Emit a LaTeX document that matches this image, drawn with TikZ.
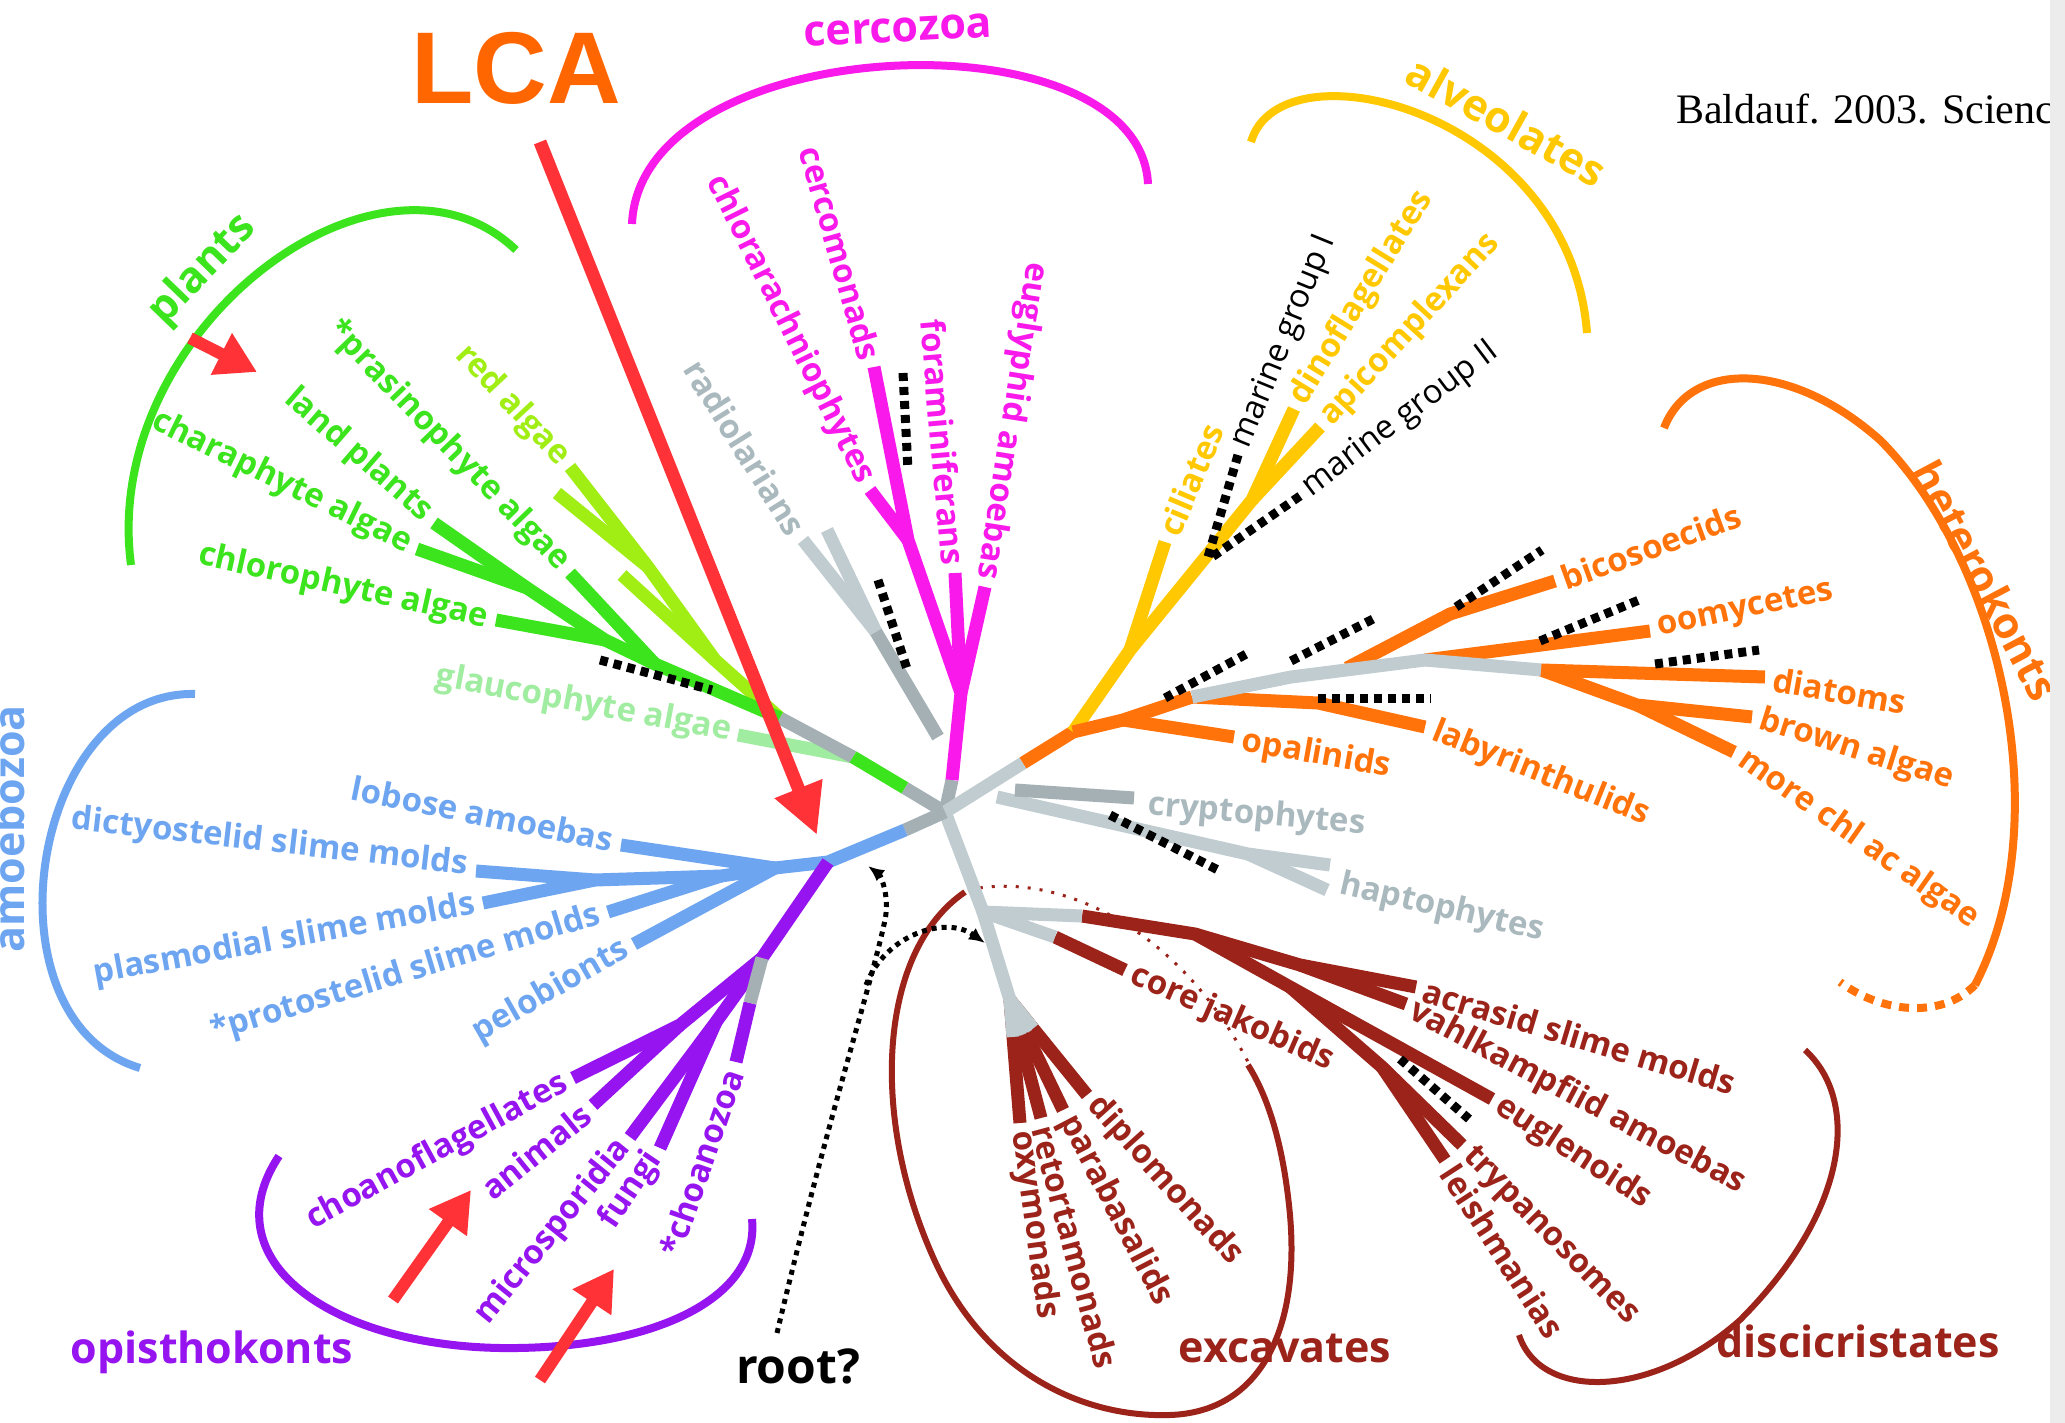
\documentclass[tikz,border=0pt]{standalone}
\usepackage{fontspec}
\setmainfont{Liberation Serif}
\newfontfamily\labfont{Open Sans}
\newfontfamily\lcafont{Liberation Sans}
\usetikzlibrary{arrows.meta,calc}

\definecolor{plantgreen}{RGB}{60,228,30}
\definecolor{redalg}{RGB}{160,238,20}
\definecolor{glauco}{RGB}{160,236,160}
\definecolor{cercomag}{RGB}{250,25,235}
\definecolor{alvyellow}{RGB}{255,200,0}
\definecolor{hetorange}{RGB}{255,115,10}
\definecolor{amoeblue}{RGB}{110,165,240}
\definecolor{opipurple}{RGB}{150,20,240}
\definecolor{excbrown}{RGB}{155,35,25}
\definecolor{greydark}{RGB}{164,176,180}
\definecolor{greylight}{RGB}{192,204,208}
\definecolor{greytext}{RGB}{170,185,190}
\definecolor{lcaorange}{RGB}{255,102,0}
\definecolor{lcared}{RGB}{255,50,55}
\definecolor{stripgrey}{RGB}{236,236,236}

\tikzset{
  branch/.style={line width=13pt, line join=round},
  clade/.style={line width=8pt},
  leaf/.style={font=\labfont\bfseries\fontsize{33}{33}\selectfont, inner sep=0pt},
  thinleaf/.style={font=\labfont\fontsize{33}{33}\selectfont, inner sep=0pt},
  group/.style={font=\labfont\bfseries\fontsize{43}{43}\selectfont, inner sep=0pt},
  blkdash/.style={line width=9pt, dash pattern=on 8pt off 6pt},
  lcaarrow/.style={lcared, line width=13pt, -{Triangle[length=50pt,width=48pt]}},
  redarrow/.style={lcared, line width=12pt, -{Triangle[length=40pt,width=44pt]}},
  rootdot/.style={line width=5pt, dash pattern=on 5pt off 5pt, -{Latex[length=16pt,width=14pt]}},
}

\begin{document}
\begin{tikzpicture}[x=1pt,y=-1pt]
  \useasboundingbox (0,0) rectangle (2065,1423);
  \fill[white] (0,0) rectangle (2065,1423);

  % hub
  \coordinate (hub) at (945,812);

  % ---------------------------------------------------------------- clade arcs
  \draw[clade,plantgreen] (131,565) .. controls (100,330) and (380,120) .. (516,250);
  \draw[clade,cercomag] (632,224) .. controls (640,30) and (1140,10) .. (1148,184);
  \draw[clade,alvyellow] (1251,142) .. controls (1280,40) and (1570,110) .. (1587,333);
  \draw[clade,hetorange] (1664,428) .. controls (1690,360) and (1790,360) .. (1880,440)
    .. controls (2000,560) and (2060,820) .. (1975,985);
  \draw[clade,hetorange,dash pattern=on 10pt off 8pt] (1975,985) .. controls (1940,1020) and (1880,1012) .. (1840,982);
  \draw[clade,amoeblue] (195,694) .. controls (30,690) and (-20,1020) .. (140,1068);
  \draw[clade,opipurple] (279,1156) .. controls (210,1260) and (330,1345) .. (500,1348)
    .. controls (650,1350) and (760,1300) .. (752,1219);
  \draw[line width=6pt,excbrown] (965,892) .. controls (880,950) and (870,1110) .. (930,1250)
    .. controls (980,1370) and (1080,1418) .. (1170,1415)
    .. controls (1260,1412) and (1300,1330) .. (1290,1215)
    .. controls (1284,1150) and (1270,1100) .. (1248,1065);
  \draw[excbrown,line width=3pt,dash pattern=on 3pt off 9pt] (968,890) .. controls (1060,870) and (1180,930) .. (1248,1062);
  \draw[line width=6pt,excbrown] (1519,1335) .. controls (1540,1400) and (1650,1400) .. (1740,1320)
    .. controls (1850,1210) and (1860,1100) .. (1805,1050);

  % ---------------------------------------------------------------- plants
  \coordinate (pl0) at (905,788);
  \coordinate (pl1) at (853,757);
  \coordinate (pl2) at (780,718);
  \coordinate (plY) at (715,660);
  \coordinate (plRJ) at (648,567);
  \coordinate (plR1) at (570,467);
  \coordinate (plR2) at (557,493);
  \coordinate (plR3) at (622,575);
  \coordinate (plC) at (655,664);
  \coordinate (plB) at (605,640);
  \coordinate (plA) at (527,588);
  \coordinate (prasT) at (570,573);
  \coordinate (chloT) at (496,620);
  \coordinate (charT) at (417,549);
  \coordinate (landT) at (434,523);
  \coordinate (glauT) at (738,735);

  \draw[branch,glauco] (glauT) -- (pl1);
  \draw[branch,redalg] (plR1) -- (plRJ) -- (plY) -- (pl2);
  \draw[branch,redalg] (plR2) -- (plRJ);
  \draw[branch,redalg] (plR3) -- (plY);
  \draw[branch,plantgreen] (charT) -- (plA) -- (plB) -- (plC) -- (pl2);
  \draw[branch,plantgreen] (landT) -- (plA);
  \draw[branch,plantgreen] (chloT) -- (plB);
  \draw[branch,plantgreen] (prasT) -- (plC);
  \draw[branch,greydark] (pl2) -- (pl1);
  \draw[branch,plantgreen] (pl1) -- (pl0);
  \draw[branch,greydark] (pl0) -- (hub);
  \draw[blkdash] (600,660) -- (712,690);

  \node[leaf,plantgreen,rotate=-46,anchor=east] (prasL) at (564,566) {*prasinophyte algae};
  \node[leaf,redalg,rotate=-47,anchor=east] (redL) at (564,461) {red algae};
  \node[leaf,plantgreen,rotate=-41,anchor=east] (landL) at (428,516) {land plants};
  \node[leaf,plantgreen,rotate=-26,anchor=east] (charL) at (410,545) {charaphyte algae};
  \node[leaf,plantgreen,rotate=-12.4,anchor=east] (chloL) at (488,619) {chlorophyte algae};
  \node[leaf,glauco,rotate=-10.6,anchor=east] (glauL) at (731,732) {glaucophyte algae};
  \node[group,plantgreen,rotate=46] (plantsL) at (203,270) {plants};

  % ---------------------------------------------------------------- cercozoa
  \coordinate (cz0) at (952,780);
  \coordinate (cz1) at (961,693);
  \coordinate (cz2) at (908,540);
  \coordinate (cercT) at (874,367);
  \coordinate (chlaT) at (870,490);
  \coordinate (foraT) at (955,573);
  \coordinate (eugyT) at (985,587);
  \coordinate (radT1) at (803,540);
  \coordinate (radT2) at (827,530);
  \coordinate (radJ) at (876,632);
  \coordinate (radE) at (938,737);

  \draw[branch,greydark] (hub) -- (cz0);
  \draw[branch,cercomag] (cercT) -- (cz2) -- (cz1) -- (cz0);
  \draw[branch,cercomag] (chlaT) -- (cz2);
  \draw[branch,cercomag] (foraT) -- (cz1);
  \draw[branch,cercomag] (eugyT) -- (cz1);
  \draw[branch,greylight] (radT1) -- (radJ);
  \draw[branch,greylight] (radT2) -- (radJ);
  \draw[branch,greydark] (radJ) -- (radE);
  \draw[blkdash] (903,373) -- (908,470);
  \draw[blkdash] (878,580) -- (908,672);

  \node[leaf,greytext,rotate=-58,anchor=east] (radL) at (798,532) {radiolarians};
  \node[leaf,cercomag,rotate=-63.5,anchor=east] (chlaL) at (866,482) {chlorarachniophytes};
  \node[leaf,cercomag,rotate=-74,anchor=east] (cercL) at (871,359) {cercomonads};
  \node[leaf,cercomag,rotate=-85,anchor=east] (foraL) at (954,565) {foraminiferans};
  \node[leaf,cercomag,rotate=-99,anchor=east] (eugyL) at (986,579) {euglyphid amoebas};
  \node[group,cercomag,rotate=3] (cercozoaL) at (898,30) {cercozoa};

  % ---------------------------------------------------------------- alveolates
  \coordinate (al00) at (1023,763);
  \coordinate (al0) at (1073,732);
  \coordinate (al1) at (1130,650);
  \coordinate (al2) at (1252,500);
  \coordinate (cilT) at (1165,542);
  \coordinate (dinoT) at (1294,409);
  \coordinate (apiT) at (1320,427);
  \coordinate (mg1T) at (1238,455);
  \coordinate (mg2T) at (1300,496);

  \draw[branch,greylight] (hub) -- (al00);
  \draw[branch,hetorange] (al00) -- (al0);
  \draw[branch,alvyellow] (dinoT) -- (al2) -- (al1) -- (al0);
  \draw[branch,alvyellow] (apiT) -- (al2);
  \draw[branch,alvyellow] (cilT) -- (al1);
  \draw[blkdash] (mg1T) -- (1208,557);
  \draw[blkdash] (mg2T) -- (1212,557);

  \node[leaf,alvyellow,rotate=67,anchor=west] (cilL) at (1168,534) {ciliates};
  \node[thinleaf,rotate=67.8,anchor=west] (mg1L) at (1241,447) {marine group I};
  \node[leaf,alvyellow,rotate=58.5,anchor=west] (dinoL) at (1298,402) {dinoflagellates};
  \node[leaf,alvyellow,rotate=47.3,anchor=west] (apiL) at (1326,421) {apicomplexans};
  \node[thinleaf,rotate=37,anchor=west] (mg2L) at (1306,491) {marine group II};
  \node[group,alvyellow,rotate=-29] (alveolatesL) at (1507,121) {alveolates};

  % ---------------------------------------------------------------- heterokonts
  \coordinate (he1) at (1123,720);
  \coordinate (hg0) at (1192,697);
  \coordinate (hg1) at (1291,677);
  \coordinate (hgB) at (1347,668);
  \coordinate (hg2) at (1425,660);
  \coordinate (hg3) at (1541,670);
  \coordinate (hb) at (1637,705);
  \coordinate (opalT) at (1234,737);
  \coordinate (labT) at (1425,727);
  \coordinate (bicT) at (1555,581);
  \coordinate (oomT) at (1650,631);
  \coordinate (diaT) at (1765,677);
  \coordinate (broT) at (1752,717);
  \coordinate (morT) at (1734,752);

  \draw[branch,hetorange] (al0) -- (he1) -- (hg0);
  \draw[branch,hetorange] (he1) -- (opalT);
  \draw[branch,hetorange] (hg0) -- (1318,703) -- (labT);
  \draw[branch,hetorange] (hgB) -- (1450,614) -- (bicT);
  \draw[branch,hetorange] (hg2) -- (oomT);
  \draw[branch,hetorange] (hg3) -- (diaT);
  \draw[branch,hetorange] (hg3) -- (hb) -- (broT);
  \draw[branch,hetorange] (hb) -- (morT);
  \draw[branch,greylight] (hg0) -- (hg1) -- (hg2) -- (hg3);
  \draw[blkdash] (1165,698) -- (1250,652);
  \draw[blkdash] (1291,661) -- (1377,617);
  \draw[blkdash] (1318,698) -- (1431,698);
  \draw[blkdash] (1456,607) -- (1542,550);
  \draw[blkdash] (1540,641) -- (1639,600);
  \draw[blkdash] (1655,664) -- (1759,650);

  \node[leaf,hetorange,rotate=-10,anchor=west] (opalL) at (1242,742) {opalinids};
  \node[leaf,hetorange,rotate=-21.8,anchor=west] (labL) at (1433,731) {labyrinthulids};
  \node[leaf,hetorange,rotate=20,anchor=west] (bicL) at (1562,579) {bicosoecids};
  \node[leaf,hetorange,rotate=12,anchor=west] (oomL) at (1658,629) {oomycetes};
  \node[leaf,hetorange,rotate=-10,anchor=west] (diaL) at (1773,679) {diatoms};
  \node[leaf,hetorange,rotate=-17.5,anchor=west] (broL) at (1760,720) {brown algae};
  \node[leaf,hetorange,rotate=-35,anchor=west] (morL) at (1741,757) {more chl ac algae};
  \node[group,hetorange,rotate=-62] (heterokontsL) at (1986,580) {heterokonts};

  % ---------------------------------------------------------------- cryptophytes, haptophytes
  \coordinate (cr0) at (1015,790);
  \coordinate (crT) at (1134,798);
  \coordinate (hp0) at (997,797);
  \coordinate (hpJ) at (1248,854);
  \coordinate (hpT1) at (1330,865);
  \coordinate (hpT2) at (1327,890);

  \draw[branch,greylight] (hpT1) -- (hpJ) -- (hp0);
  \draw[branch,greylight] (hpT2) -- (hpJ);
  \draw[branch,greydark] (cr0) -- (crT);
  \draw[blkdash] (1110,815) -- (1218,870);

  \node[leaf,greytext,rotate=-5,anchor=west] (crL) at (1148,806) {cryptophytes};
  \node[leaf,greytext,rotate=-13,anchor=west] (hpL) at (1340,885) {haptophytes};

  % ---------------------------------------------------------------- excavates, discicristates
  \coordinate (dv1) at (983,912);
  \coordinate (ex0) at (1010,1000);
  \coordinate (oxyT) at (1020,1123);
  \coordinate (retT) at (1041,1118);
  \coordinate (parT) at (1063,1110);
  \coordinate (dipT) at (1087,1095);
  \coordinate (cj0) at (1055,937);
  \coordinate (cjT) at (1125,970);
  \coordinate (dc0) at (1082,916);
  \coordinate (dc1) at (1195,934);
  \coordinate (dc2) at (1300,965);
  \coordinate (dc3) at (1290,987);
  \coordinate (dc4) at (1382,1067);
  \coordinate (acrT) at (1416,987);
  \coordinate (vahT) at (1406,1004);
  \coordinate (eugT) at (1492,1099);
  \coordinate (tryT) at (1462,1145);
  \coordinate (leiT) at (1445,1160);

  \foreach \t in {oxyT,retT,parT,dipT} {
    \draw[branch,excbrown] (ex0) -- (\t);
  }
  \foreach \t in {oxyT,retT,parT,dipT} {
    \draw[branch,greylight] (ex0) -- ($(ex0)!0.3!(\t)$);
  }
  \draw[branch,excbrown] (acrT) -- (dc2) -- (dc1) -- (dc0);
  \draw[branch,excbrown] (vahT) -- (dc2);
  \draw[branch,excbrown] (eugT) -- (dc3) -- (dc1);
  \draw[branch,excbrown] (tryT) -- (dc4) -- (dc3);
  \draw[branch,excbrown] (leiT) -- (dc4);
  \draw[branch,excbrown] (cj0) -- (cjT);
  \draw[branch,greylight] (dc0) -- (dv1) -- (cj0);
  \draw[branch,greylight] (hub) -- (dv1) -- (ex0);
  \draw[blkdash] (1400,1059) -- (1469,1119);

  \node[leaf,excbrown,rotate=-82,anchor=west] (oxyL) at (1021,1131) {oxymonads};
  \node[leaf,excbrown,rotate=-75,anchor=west] (retL) at (1043,1126) {retortamonads};
  \node[leaf,excbrown,rotate=-62.5,anchor=west] (parL) at (1067,1117) {parabasalids};
  \node[leaf,excbrown,rotate=-48,anchor=west] (dipL) at (1093,1101) {diplomonads};
  \node[leaf,excbrown,rotate=-23.6,anchor=west] (cjL) at (1132,975) {core jakobids};
  \node[leaf,excbrown,rotate=-16.7,anchor=west] (acrL) at (1424,990) {acrasid slime molds};
  \node[leaf,excbrown,rotate=-27.9,anchor=west] (vahL) at (1411,1010) {vahlkampfiid amoebas};
  \node[leaf,excbrown,rotate=-33,anchor=west] (eugL) at (1498,1104) {euglenoids};
  \node[leaf,excbrown,rotate=-45.5,anchor=west] (tryL) at (1467,1152) {trypanosomes};
  \node[leaf,excbrown,rotate=-57,anchor=west] (leiL) at (1449,1168) {leishmanias};
  \node[group,excbrown] (excavatesL) at (1285,1348) {excavates};
  \node[group,excbrown] (discicristatesL) at (1858,1341) {discicristates};

  % ---------------------------------------------------------------- amoebozoa
  \coordinate (am00) at (905,830);
  \coordinate (amJ) at (828,862);
  \coordinate (am1) at (775,868);
  \coordinate (am2) at (721,876);
  \coordinate (amA) at (595,880);
  \coordinate (lobT) at (621,845);
  \coordinate (dicT) at (476,871);
  \coordinate (plaT) at (483,903);
  \coordinate (proT) at (608,912);
  \coordinate (pelT) at (634,944);

  \draw[branch,greydark] (hub) -- (am00);
  \draw[branch,amoeblue] (dicT) -- (amA) -- (am2) -- (am1) -- (amJ) -- (am00);
  \draw[branch,amoeblue] (plaT) -- (amA);
  \draw[branch,amoeblue] (proT) -- (am2);
  \draw[branch,amoeblue] (lobT) -- (am1);
  \draw[branch,amoeblue] (pelT) -- (am1);

  \node[leaf,amoeblue,rotate=-11.5,anchor=east] (lobL) at (613,840) {lobose amoebas};
  \node[leaf,amoeblue,rotate=-6.6,anchor=east] (dicL) at (468,866) {dictyostelid slime molds};
  \node[leaf,amoeblue,rotate=10.4,anchor=east] (plaL) at (475,905) {plasmodial slime molds};
  \node[leaf,amoeblue,rotate=16.8,anchor=east] (proL) at (600,915) {*protostelid slime molds};
  \node[leaf,amoeblue,rotate=29.7,anchor=east] (pelL) at (627,948) {pelobionts};
  \node[group,amoeblue,rotate=90,anchor=south] (amoebozoaL) at (25,829) {amoebozoa};

  % ---------------------------------------------------------------- opisthokonts
  \coordinate (op1) at (762,958);
  \coordinate (op2) at (680,1025);
  \coordinate (op3) at (716,1022);
  \coordinate (oz0) at (750,1003);
  \coordinate (cfT) at (573,1078);
  \coordinate (anT) at (593,1105);
  \coordinate (miT) at (630,1137);
  \coordinate (fuT) at (660,1148);
  \coordinate (ozT) at (736,1062);

  \draw[branch,opipurple] (cfT) -- (op2) -- (op1) -- (amJ);
  \draw[branch,opipurple] (anT) -- (op2);
  \draw[branch,opipurple] (miT) -- (op3) -- (op1);
  \draw[branch,opipurple] (fuT) -- (op3);
  \draw[branch,opipurple] (ozT) -- (oz0);
  \draw[branch,greydark] (oz0) -- (op1);

  \node[leaf,opipurple,rotate=28.5,anchor=east] (cfL) at (566,1082) {choanoflagellates};
  \node[leaf,opipurple,rotate=39,anchor=east] (anL) at (587,1110) {animals};
  \node[leaf,opipurple,rotate=51,anchor=east] (miL) at (625,1143) {microsporidia};
  \node[leaf,opipurple,rotate=56,anchor=east] (fuL) at (655,1155) {fungi};
  \node[leaf,opipurple,rotate=71,anchor=east] (ozL) at (733,1070) {*choanozoa};
  \node[group,opipurple] (opisthokontsL) at (212,1352) {opisthokonts};

  % ---------------------------------------------------------------- root
  \node[font=\labfont\bfseries\fontsize{48}{48}\selectfont, inner sep=0pt] (rootL) at (798,1366) {root?};
  \coordinate (rootS) at (777,1333);
  \coordinate (rootA) at (868,866);
  \coordinate (rootM) at (866,985);
  \coordinate (rootB) at (985,943);
  \draw[rootdot] (rootS) .. controls (830,1110) and (870,990) .. (885,920)
    .. controls (890,895) and (880,875) .. (rootA);
  \draw[rootdot] (rootM) .. controls (885,935) and (945,915) .. (rootB);

  % ---------------------------------------------------------------- LCA and red arrows
  \node[font=\lcafont\bfseries\fontsize{102}{102}\selectfont, lcaorange, inner sep=0pt] (lca) at (516,68) {LCA};
  \coordinate (lcaS) at (540,142);
  \coordinate (lcaT) at (817,835);
  \draw[lcaarrow] (lcaS) -- (lcaT);
  \draw[redarrow] (190,338) -- (257,372);
  \draw[redarrow] (393,1300) -- (471,1190);
  \draw[redarrow] (540,1380) -- (614,1269);

  % ---------------------------------------------------------------- reference
  \node[font=\fontsize{42}{42}\selectfont, anchor=base west, inner sep=0pt] (ref) at (1676,124) {Baldauf. 2003. Science};
  \fill[stripgrey] (2050,0) rectangle (2065,1423);
\end{tikzpicture}
\end{document}
